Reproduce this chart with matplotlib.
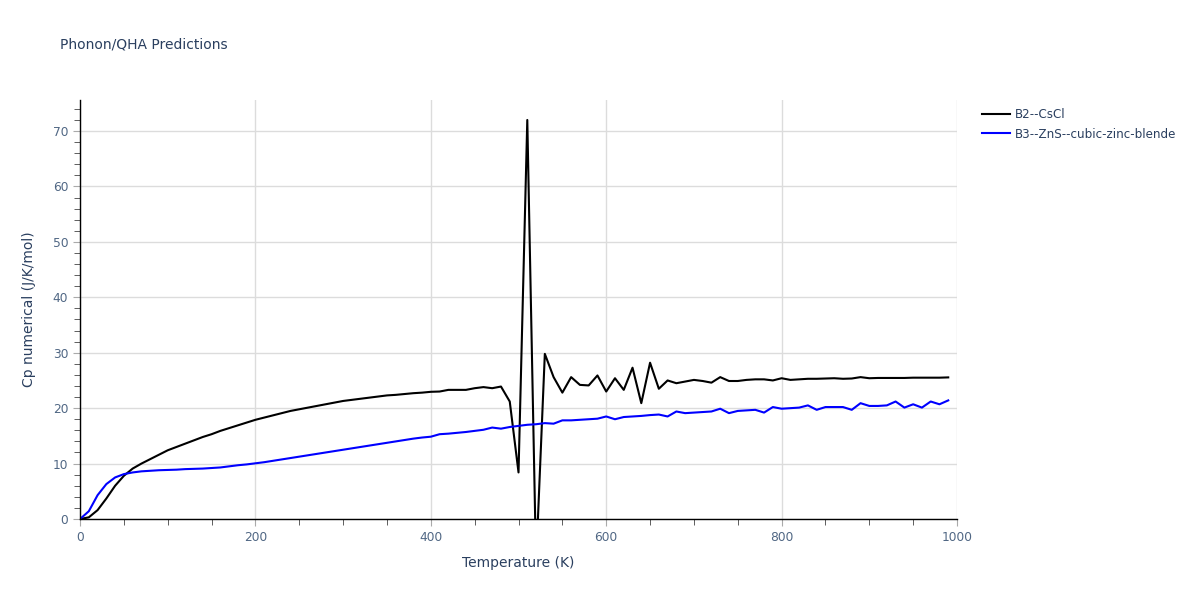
import matplotlib.pyplot as plt
from matplotlib.ticker import MultipleLocator

plt.rcParams["font.family"] = ["DejaVu Sans"]

temperature = list(range(0, 1000, 10))

cp_b2_cscl = [
    0.0, 0.3, 1.6, 3.7, 6.0, 7.8, 9.1, 10.0, 10.8, 11.6,
    12.4, 13.0, 13.6, 14.2, 14.8, 15.3, 15.9, 16.4, 16.9, 17.4,
    17.9, 18.3, 18.7, 19.1, 19.5, 19.8, 20.1, 20.4, 20.7, 21.0,
    21.3, 21.5, 21.7, 21.9, 22.1, 22.3, 22.4, 22.55, 22.7, 22.8,
    22.95, 23.0, 23.3, 23.3, 23.3, 23.6, 23.8, 23.6, 23.9, 21.2,
    8.4, 72.0, -8.0, 29.8, 25.6, 22.8, 25.6, 24.2, 24.1, 25.9,
    23.0, 25.4, 23.3, 27.3, 20.9, 28.2, 23.5, 25.0, 24.5, 24.8,
    25.1, 24.9, 24.6, 25.6, 24.9, 24.9, 25.1, 25.2, 25.2, 25.0,
    25.4, 25.1, 25.2, 25.3, 25.3, 25.35, 25.4, 25.3, 25.35, 25.6,
    25.4, 25.45, 25.45, 25.45, 25.45, 25.5, 25.5, 25.5, 25.5, 25.55,
]

cp_b3_zns = [
    0.0, 1.4, 4.3, 6.3, 7.5, 8.1, 8.4, 8.6, 8.7, 8.8,
    8.85, 8.9, 9.0, 9.05, 9.1, 9.2, 9.3, 9.5, 9.7, 9.85,
    10.05, 10.25, 10.5, 10.75, 11.0, 11.25, 11.5, 11.75, 12.0, 12.25,
    12.5, 12.75, 13.0, 13.25, 13.5, 13.75, 14.0, 14.25, 14.5, 14.7,
    14.85, 15.3, 15.4, 15.55, 15.7, 15.9, 16.1, 16.5, 16.3, 16.6,
    16.8, 17.0, 17.1, 17.3, 17.2, 17.8, 17.8, 17.9, 18.0, 18.1,
    18.5, 18.0, 18.4, 18.5, 18.6, 18.75, 18.85, 18.5, 19.4, 19.1,
    19.2, 19.3, 19.4, 19.9, 19.1, 19.5, 19.6, 19.7, 19.2, 20.2,
    19.9, 20.0, 20.1, 20.5, 19.7, 20.2, 20.2, 20.2, 19.7, 20.9,
    20.4, 20.4, 20.5, 21.2, 20.1, 20.7, 20.1, 21.2, 20.7, 21.4,
]

text_color = "#2a3f5f"
tick_color = "#506784"

fig = plt.figure(figsize=(12, 6), dpi=100)
ax = fig.add_axes([0.0667, 0.135, 0.7308, 0.6983])

ax.plot(temperature, cp_b2_cscl, color="black", lw=1.5, label="B2--CsCl")
ax.plot(temperature, cp_b3_zns, color="blue", lw=1.5, label="B3--ZnS--cubic-zinc-blende")

ax.set_xlim(0, 1000)
ax.set_ylim(0, 75.6)
ax.xaxis.set_major_locator(MultipleLocator(200))
ax.xaxis.set_minor_locator(MultipleLocator(50))
ax.yaxis.set_major_locator(MultipleLocator(10))
ax.yaxis.set_minor_locator(MultipleLocator(2))

ax.grid(True, which="major", color="#dcdcdc", lw=1)
ax.set_axisbelow(True)
for side in ["top", "right"]:
    ax.spines[side].set_visible(False)
for side in ["bottom", "left"]:
    ax.spines[side].set_color("black")
    ax.spines[side].set_linewidth(1)

ax.tick_params(which="major", direction="out", length=5, color="#aaaaaa",
               labelsize=8.8, labelcolor=tick_color)
ax.tick_params(which="minor", direction="out", length=4, color="#444444")

ax.set_xlabel("Temperature (K)", fontsize=10, color=text_color, labelpad=9)
ax.set_ylabel("Cp numerical (J/K/mol)", fontsize=10, color=text_color, labelpad=12)

fig.text(0.05, 0.925, "Phonon/QHA Predictions", fontsize=10, color=text_color,
         va="center")

leg = ax.legend(loc="upper left", bbox_to_anchor=(1.022, 0.995), frameon=False,
                fontsize=8.6, handlelength=2.3, handletextpad=0.45,
                borderaxespad=0.1, labelspacing=0.55)
for t in leg.get_texts():
    t.set_color(text_color)

fig.savefig("out.png", dpi=100)
